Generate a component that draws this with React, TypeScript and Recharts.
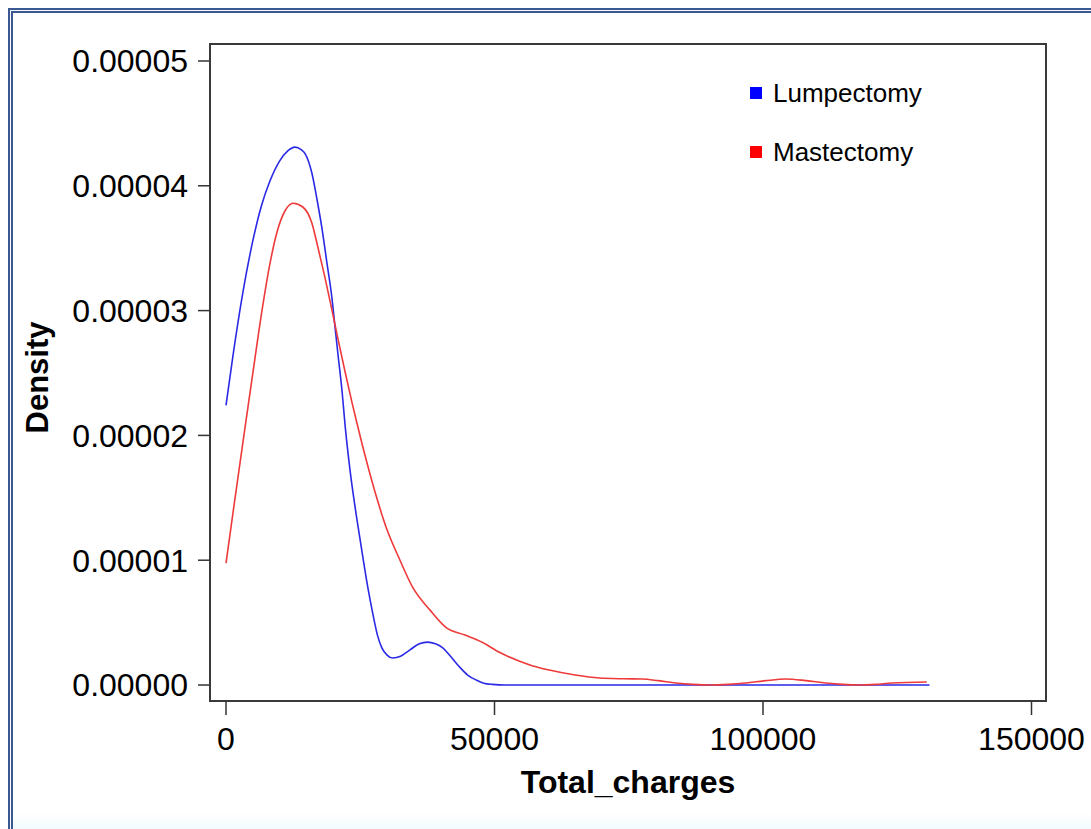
import React from 'react';
import {
  LineChart,
  Line,
  XAxis,
  YAxis,
  ReferenceArea,
  Legend
} from 'recharts';

// Kernel density estimates
const lumpX = [0, 1300, 3200, 5000, 6600, 8200, 10000, 11500, 12850, 14000, 14700, 16000, 16950, 17900, 18800, 19700, 20300, 20900, 21600, 22200, 23100, 24300, 25500, 26500, 27300, 28200, 29000, 30000, 31000, 32500, 34200, 36000, 37500, 39000, 40300, 42000, 43500, 45000, 46600, 48000, 49600, 52000, 70000, 90000, 110000, 131000];
const lumpY = [2.24e-5, 2.64e-5, 3.16e-5, 3.56e-5, 3.84e-5, 4.04e-5, 4.2e-5, 4.28e-5, 4.31e-5, 4.29e-5, 4.26e-5, 4.1e-5, 3.89e-5, 3.65e-5, 3.38e-5, 3.11e-5, 2.87e-5, 2.63e-5, 2.36e-5, 2.07e-5, 1.72e-5, 1.35e-5, 1.02e-5, 0.76e-5, 0.58e-5, 0.4e-5, 0.3e-5, 0.24e-5, 0.216e-5, 0.23e-5, 0.28e-5, 0.33e-5, 0.344e-5, 0.33e-5, 0.3e-5, 0.22e-5, 0.144e-5, 0.08e-5, 0.04e-5, 0.015e-5, 0.005e-5, 0, 0, 0, 0, 0];

const mastX = [0, 1300, 3200, 4800, 6700, 8200, 9500, 11000, 12500, 14300, 16000, 17100, 18400, 19700, 20900, 22200, 23500, 24400, 26200, 28000, 29900, 32300, 34800, 38000, 41000, 44500, 47800, 51000, 54100, 57000, 60200, 65000, 69500, 74000, 77500, 80500, 83800, 87000, 90000, 93500, 96800, 100500, 104300, 108000, 111700, 114800, 117800, 121000, 124000, 130500];
const mastY = [0.976e-5, 1.38e-5, 1.96e-5, 2.44e-5, 3.0e-5, 3.38e-5, 3.63e-5, 3.8e-5, 3.86e-5, 3.83e-5, 3.7e-5, 3.51e-5, 3.27e-5, 3.01e-5, 2.764e-5, 2.504e-5, 2.257e-5, 2.095e-5, 1.789e-5, 1.51e-5, 1.254e-5, 1.01e-5, 0.78e-5, 0.6e-5, 0.46e-5, 0.4e-5, 0.34e-5, 0.26e-5, 0.2e-5, 0.155e-5, 0.12e-5, 0.08e-5, 0.056e-5, 0.05e-5, 0.048e-5, 0.035e-5, 0.016e-5, 0.005e-5, 0, 0.005e-5, 0.016e-5, 0.035e-5, 0.048e-5, 0.035e-5, 0.016e-5, 0.005e-5, 0, 0.005e-5, 0.016e-5, 0.024e-5];

const xTicks = [0, 50000, 100000, 150000];
const yTicks = [0, 0.00001, 0.00002, 0.00003, 0.00004, 0.00005];

const seriesNames = ['Lumpectomy', 'Mastectomy'];
const LINE_COLORS = ['#2a2ae6', '#ee3a3a'];
const KEY_COLORS = ['#0000ff', '#ff0000'];

const X_DOMAIN: [number, number] = [-2980, 152700];
const Y_DOMAIN: [number, number] = [-0.00000128, 0.00005136];

const FONT = '"Liberation Sans", Arial, Helvetica, sans-serif';

const lumpData = lumpX.map((x, i) => ({ x, y: lumpY[i] }));
const mastData = mastX.map((x, i) => ({ x, y: mastY[i] }));

const renderLegend = () => (
  <div style={{ fontFamily: FONT, fontSize: 26, color: '#000' }}>
    {seriesNames.map((name, i) => (
      <div key={name} style={{ display: 'flex', alignItems: 'center', height: 30, lineHeight: '30px', marginBottom: 29 }}>
        <span style={{ width: 12, height: 12, background: KEY_COLORS[i], display: 'inline-block' }} />
        <span style={{ marginLeft: 11 }}>{name}</span>
      </div>
    ))}
  </div>
);

const App: React.FC = () => {
  return (
    <div style={{ position: 'relative', width: 1091, height: 829, fontFamily: FONT, overflow: 'hidden' }}>
      <style>{'html, body { margin: 0; padding: 0; overflow: hidden; }'}</style>
      <div
        style={{
          position: 'absolute',
          left: 8,
          top: 8,
          width: 1083,
          height: 821,
          boxSizing: 'border-box',
          borderLeft: '5px double #3b5894',
          borderTop: '5px double #3b5894',
          background: 'linear-gradient(to bottom, #ffffff 98%, #f1fafd 100%)'
        }}
      />
      <div style={{ position: 'absolute', left: 0, top: 0 }}>
        <LineChart width={1091} height={829} margin={{ top: 44, right: 45, left: 20, bottom: 8 }}>
          <XAxis
            dataKey="x"
            type="number"
            domain={X_DOMAIN}
            ticks={xTicks}
            allowDataOverflow
            height={120}
            axisLine={false}
            tickSize={14}
            tickMargin={12}
            tickLine={{ stroke: '#333', strokeWidth: 1.5 }}
            tick={{ fill: '#000', fontSize: 32, fontFamily: FONT }}
            label={{
              content: ({ viewBox }: any) => (
                <text
                  x={viewBox.x + viewBox.width / 2}
                  y={viewBox.y + 92}
                  textAnchor="middle"
                  fontSize={32}
                  fontWeight="bold"
                  fontFamily={FONT}
                  fill="#000"
                >
                  Total_charges
                </text>
              )
            }}
          />
          <YAxis
            type="number"
            domain={Y_DOMAIN}
            ticks={yTicks}
            allowDataOverflow
            width={190}
            axisLine={false}
            tickSize={12}
            tickMargin={10}
            tickLine={{ stroke: '#333', strokeWidth: 1.5 }}
            tickFormatter={(v: number) => v.toFixed(5)}
            tick={{ fill: '#000', fontSize: 32, fontFamily: FONT }}
            label={{
              content: ({ viewBox }: any) => {
                const cx = viewBox.x + 17;
                const cy = viewBox.y + viewBox.height / 2 + 5;
                return (
                  <text
                    x={cx}
                    y={cy}
                    transform={`rotate(-90 ${cx} ${cy})`}
                    textAnchor="middle"
                    dominantBaseline="central"
                    fontSize={31}
                    fontWeight="bold"
                    fontFamily={FONT}
                    fill="#000"
                  >
                    Density
                  </text>
                );
              }
            }}
          />
          <ReferenceArea
            x1={X_DOMAIN[0]}
            x2={X_DOMAIN[1]}
            y1={Y_DOMAIN[0]}
            y2={Y_DOMAIN[1]}
            fill="none"
            stroke="#3a3a3a"
            strokeWidth={2}
            ifOverflow="visible"
          />
          <Line
            data={lumpData}
            dataKey="y"
            name={seriesNames[0]}
            type="monotone"
            stroke={LINE_COLORS[0]}
            strokeWidth={1.6}
            dot={false}
            isAnimationActive={false}
          />
          <Line
            data={mastData}
            dataKey="y"
            name={seriesNames[1]}
            type="monotone"
            stroke={LINE_COLORS[1]}
            strokeWidth={1.6}
            dot={false}
            isAnimationActive={false}
          />
          <Legend
            layout="horizontal"
            verticalAlign="middle"
            align="center"
            content={renderLegend}
            wrapperStyle={{ left: 750, top: 78, width: 300, height: 120 }}
          />
        </LineChart>
      </div>
    </div>
  );
};

export default App;
